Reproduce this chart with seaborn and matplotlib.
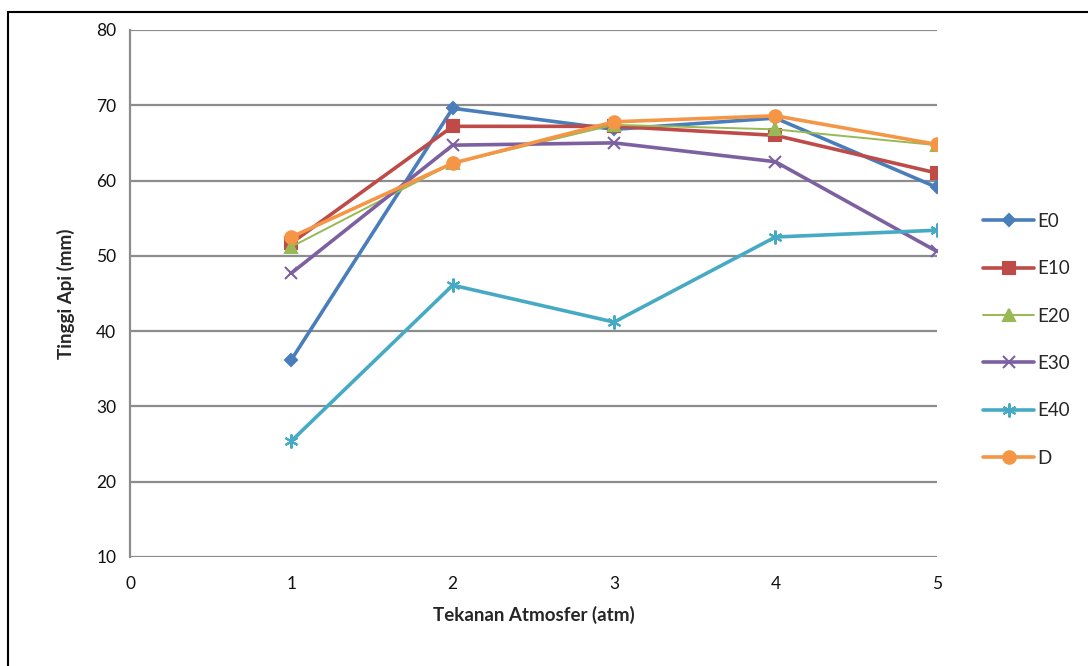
import matplotlib
matplotlib.use("Agg")
import matplotlib.pyplot as plt
import seaborn as sns
import pandas as pd
from matplotlib.patches import Rectangle

# Flame height (mm) versus pressure (atm) for each fuel blend
pressure = [1, 2, 3, 4, 5]
e0 = [36.2, 69.6, 66.8, 68.3, 59.1]
e10 = [51.7, 67.2, 67.2, 66.0, 61.0]
e20 = [51.2, 62.3, 67.4, 66.8, 64.7]
e30 = [47.7, 64.7, 65.0, 62.5, 50.6]
e40 = [25.4, 46.1, 41.2, 52.5, 53.4]
d = [52.5, 62.3, 67.8, 68.6, 64.8]

series_names = ["E0", "E10", "E20", "E30", "E40", "D"]
series_values = [e0, e10, e20, e30, e40, d]
x_ticks = [0, 1, 2, 3, 4, 5]
y_ticks = [10, 20, 30, 40, 50, 60, 70, 80]

styles = {
    "E0": dict(color="#4A7EBB", marker="D", ms=6, lw=2.6),
    "E10": dict(color="#BE4B48", marker="s", ms=9, lw=2.6),
    "E20": dict(color="#98B954", marker="^", ms=8, lw=1.4),
    "E30": dict(color="#7D60A0", marker="x", ms=9, lw=2.6),
    "E40": dict(color="#46AAC5", marker=(6, 2, 0), ms=10, lw=2.6),
    "D": dict(color="#F59646", marker="o", ms=9, lw=2.6),
}

sns.set_theme(style="white")
plt.rcParams["font.family"] = ["Lato", "DejaVu Sans"]

fig = plt.figure(figsize=(10.88, 6.66), dpi=100)
ax = fig.add_axes([0.1195, 0.1637, 0.7415, 0.7913])

for name, vals in zip(series_names, series_values):
    st = styles[name]
    df = pd.DataFrame({"x": pressure, "y": vals})
    sns.lineplot(data=df, x="x", y="y", ax=ax, color=st["color"], lw=st["lw"],
                 marker=st["marker"], markersize=st["ms"],
                 markeredgecolor=st["color"], markerfacecolor=st["color"],
                 markeredgewidth=1.5, label=name)

ax.set_xlim(0, 5)
ax.set_ylim(10, 80)
ax.set_xticks(x_ticks)
ax.set_yticks(y_ticks)
ax.tick_params(axis="both", length=0, labelsize=12.5, colors="#111111")
ax.tick_params(axis="x", pad=14)
ax.tick_params(axis="y", pad=10)
ax.yaxis.grid(True, color="#8c8c8c", lw=1.6)
ax.set_axisbelow(True)
for side in ["top", "right", "bottom"]:
    ax.spines[side].set_visible(False)
ax.spines["left"].set_color("#8c8c8c")
ax.spines["left"].set_linewidth(1.6)

ax.set_xlabel("Tekanan Atmosfer (atm)", fontsize=13.5, fontweight="bold", labelpad=10)
ax.set_ylabel("Tinggi Api (mm)", fontsize=13.5, fontweight="bold", labelpad=15)

leg = ax.legend(loc="center left", bbox_to_anchor=(1.057, 0.412), frameon=False,
                fontsize=13.5, handlelength=2.75, labelspacing=1.62,
                handletextpad=0.15, borderaxespad=0, borderpad=0)

# Outer chart frame
fig.patches.append(Rectangle((8 / 1088, -0.01), 1.02, 1 - 12 / 666 + 0.01,
                             transform=fig.transFigure, fill=False,
                             edgecolor="black", lw=1.5))

fig.savefig("out.png", dpi=100, facecolor="white")
